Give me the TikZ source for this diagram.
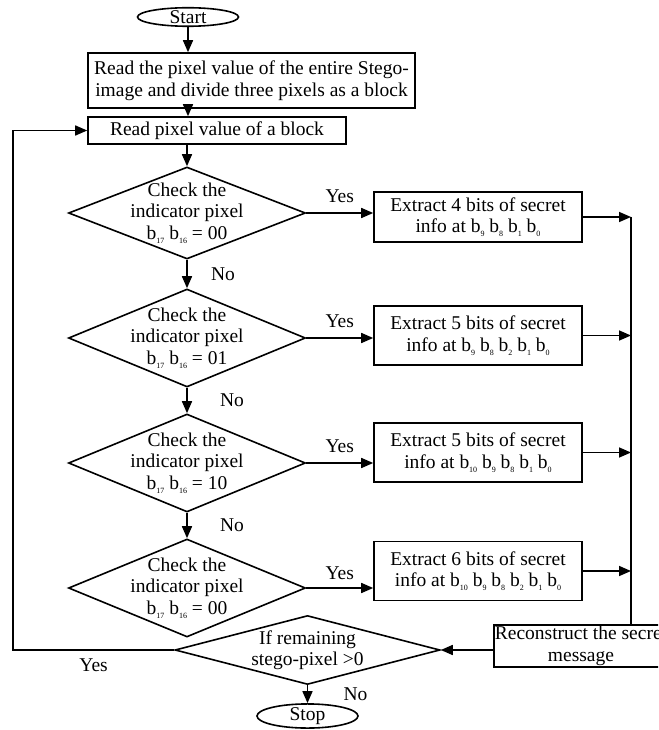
\documentclass[tikz,border=0pt]{standalone}
\usepackage{fontspec}
\setmainfont{Liberation Serif}
\usetikzlibrary{shapes.geometric, arrows.meta, positioning}
\newcommand{\bsub}[1]{b\raisebox{-0.45ex}{\fontsize{8}{8}\selectfont #1}}

\begin{document}
\begin{tikzpicture}[
    node distance=125pt,
    font=\fontsize{19.5}{21.5}\selectfont,
    startstop/.style={ellipse, draw=black, line width=1.6pt, inner sep=0pt, minimum width=101pt},
    process/.style={rectangle, draw=black, line width=1.6pt, align=center, inner sep=1pt, minimum height=27pt},
    extract/.style={process, minimum width=208pt, minimum height=59pt},
    decision/.style={diamond, draw=black, line width=1.6pt, align=center, inner xsep=-60pt, inner ysep=-28pt, minimum width=237pt, minimum height=98pt},
    link/.style={line width=1.6pt},
    arrow/.style={link, -{Triangle[length=12pt, width=10pt]}}
]

    \useasboundingbox (-188pt,17pt) rectangle (470pt,-713pt);
    \clip (-188pt,17pt) rectangle (470pt,-713pt);

    \node (start) [startstop] at (0,0) {Start};
    \node (read) [process, minimum width=327pt, minimum height=55pt, below of=start, xshift=63.5pt, yshift=61.5pt] {Read the pixel value of the entire Stego-\\image and divide three pixels as a block};
    \node (block) [process, minimum width=258pt, below of=read, xshift=-34.5pt, yshift=75pt] {Read pixel value of a block};
    \node (chk1) [decision, minimum height=92pt, below of=block, xshift=-30pt, yshift=42.5pt] {Check the\\indicator pixel\\\bsub{17} \bsub{16} = 00};
    \node (chk2) [decision, below of=chk1] {Check the\\indicator pixel\\\bsub{17} \bsub{16} = 01};
    \node (chk3) [decision, below of=chk2] {Check the\\indicator pixel\\\bsub{17} \bsub{16} = 10};
    \node (chk4) [decision, below of=chk3] {Check the\\indicator pixel\\\bsub{17} \bsub{16} = 00};
    \node (remain) [decision, minimum width=265pt, minimum height=69pt, below of=chk4, xshift=120.5pt, yshift=63pt] {If remaining\\stego-pixel >0};
    \node (stop) [startstop, below of=remain, yshift=59pt] {Stop};

    \node (ext1) [extract, minimum height=50pt, right of=chk1, xshift=166pt, yshift=-4pt] {Extract 4 bits of secret\\info at \bsub{9} \bsub{8} \bsub{1} \bsub{0}};
    \node (ext2) [extract, right of=chk2, xshift=166pt, yshift=2.5pt] {Extract 5 bits of secret\\info at \bsub{9} \bsub{8} \bsub{2} \bsub{1} \bsub{0}};
    \node (ext3) [extract, right of=chk3, xshift=166pt, yshift=10.5pt] {Extract 5 bits of secret\\info at \bsub{10} \bsub{9} \bsub{8} \bsub{1} \bsub{0}};
    \node (ext4) [extract, right of=chk4, xshift=166pt, yshift=17pt] {Extract 6 bits of secret\\info at \bsub{10} \bsub{9} \bsub{8} \bsub{2} \bsub{1} \bsub{0}};
    \node (recon) [process, minimum width=174pt, minimum height=42pt, below of=ext4, xshift=103pt, yshift=50pt] {Reconstruct the secret\\message};

    \coordinate [right of=ext1, xshift=28pt] (p1);
    \coordinate [left of=block, xshift=-79pt] (p2);

    \draw [arrow] (start) -- (read.north -| start);
    \draw [arrow] (read.south -| start) -- (block.north -| start);
    \draw [arrow] (block.south -| chk1) -- (chk1);
    \draw [arrow] (chk1) -- node[right=20pt] {No} (chk2);
    \draw [arrow] (chk2) -- node[right=29pt] {No} (chk3);
    \draw [arrow] (chk3) -- node[right=29pt] {No} (chk4);

    \draw [arrow] (chk1.east) -- node[above=6pt] {Yes} (chk1.east -| ext1.west);
    \draw [arrow] (chk2.east) -- node[above=6pt] {Yes} (chk2.east -| ext2.west);
    \draw [arrow] (chk3.east) -- node[above=6pt] {Yes} (chk3.east -| ext3.west);
    \draw [arrow] (chk4.east) -- node[above=4pt] {Yes} (chk4.east -| ext4.west);

    \draw [arrow] (ext1) -- (ext1 -| p1);
    \draw [arrow] (ext2) -- (ext2 -| p1);
    \draw [arrow] (ext3) -- (ext3 -| p1);
    \draw [arrow] (ext4) -- (ext4 -| p1);
    \draw [link] (p1) -- (recon.north -| p1);
    \draw [arrow] (recon.west |- remain.east) -- (remain.east);

    \draw [arrow] (remain) -- node[right=32pt] {No} (stop);
    \draw [link] (remain.west) -| node[pos=0.25, below=5pt] {Yes} (p2);
    \draw [arrow] (p2) -- (block.west);

\end{tikzpicture}
\end{document}
